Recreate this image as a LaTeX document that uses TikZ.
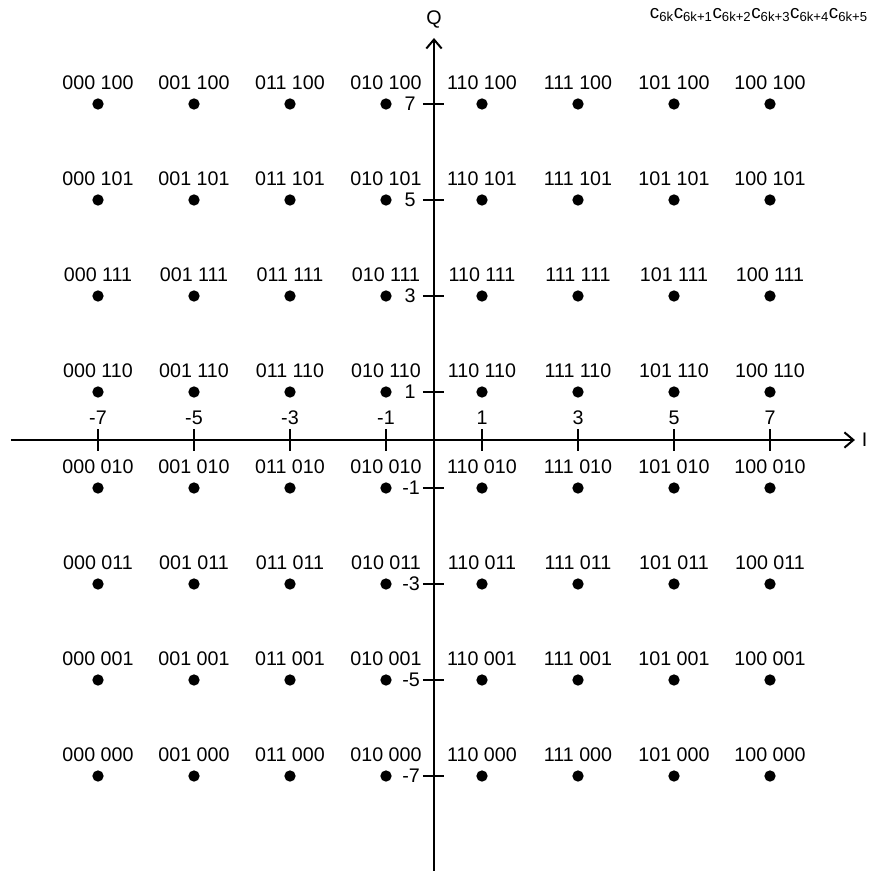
\documentclass[tikz,border=0pt]{standalone}
\usepackage{fontspec}
\setmainfont{Liberation Sans}
\usetikzlibrary{arrows.meta, positioning, calc}

\begin{document}
\begin{tikzpicture}[
  x=1.44cm, y=1.44cm,
  font=\fontsize{16.8}{20}\selectfont,
  dot/.style={circle, fill=black, inner sep=0pt, minimum size=0.34cm},
  bits/.style={inner sep=0pt},
  axis/.style={line width=0.06cm, -{Straight Barb[length=0.27cm, width=0.46cm, line width=0.06cm]}},
  tick/.style={line width=0.08cm},
  ticklbl/.style={inner sep=0pt}
]
\useasboundingbox (-9.0417,-8.979) rectangle (9.3125,9.1667);

\coordinate (xstart) at (-8.8125,0);
\coordinate (xend) at (8.77,0);
\coordinate (ystart) at (0,-9.0);
\coordinate (yend) at (0,8.375);
\draw[axis] (xstart) -- (xend);
\draw[axis] (ystart) -- (yend);
\node[right=0.2cm of xend, inner sep=0pt] (ilbl) {I};
\node[above=0.3cm of yend, inner sep=0pt] (qlbl) {Q};

% ticks and tick labels
\foreach \v in {-7,-5,-3,-1,1,3,5,7} {
  \draw[tick] (\v,-0.229) -- (\v,0.229);
  \draw[tick] (-0.23,\v) -- (0.2,\v);
  \node[ticklbl] (xt\v) at (\v,0.458) {\v};
}
\foreach \v in {1,3,5,7}
  \node[ticklbl, anchor=east] (yt\v) at (-0.38,\v) {\v};
\foreach \v in {-1,-3,-5,-7}
  \node[ticklbl, anchor=east] (yt\v) at (-0.29,\v) {\v};

% constellation points
\foreach \cx/\cb in {-7/000,-5/001,-3/011,-1/010,1/110,3/111,5/101,7/100}
  \foreach \cy/\rb in {7/100,5/101,3/111,1/110,-1/010,-3/011,-5/001,-7/000} {
    \node[dot] (p\cb\rb) at (\cx,\cy) {};
    \node[bits] (b\cb\rb) at (\cx,\cy+0.4375) {\cb\ \rb};
  }

\node[anchor=east, inner sep=0pt, font=\fontsize{16}{19}\selectfont] (hdr) at (9.04,8.854)
  {c\textsubscript{6k}c\textsubscript{6k+1}c\textsubscript{6k+2}c\textsubscript{6k+3}c\textsubscript{6k+4}c\textsubscript{6k+5}};
\end{tikzpicture}
\end{document}
